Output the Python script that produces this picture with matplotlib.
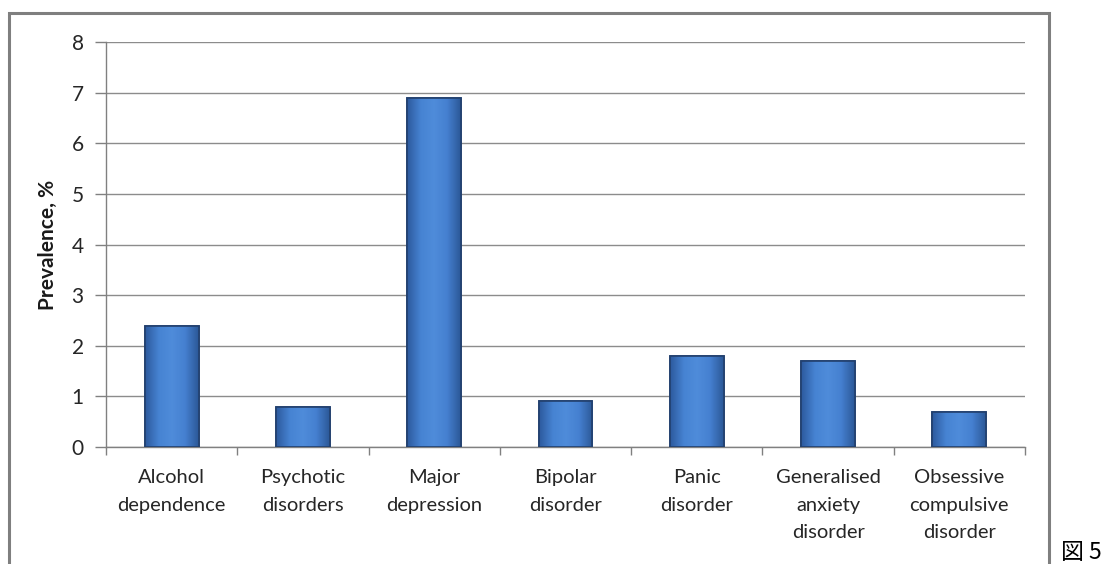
"""Prevalence of mental disorders - bar chart with Excel-like styling."""

import numpy as np
import matplotlib

matplotlib.use("Agg")
import matplotlib.pyplot as plt
from matplotlib.colors import LinearSegmentedColormap
from matplotlib.patches import Rectangle

categories = [
    "Alcohol\ndependence",
    "Psychotic\ndisorders",
    "Major\ndepression",
    "Bipolar\ndisorder",
    "Panic\ndisorder",
    "Generalised\nanxiety\ndisorder",
    "Obsessive\ncompulsive\ndisorder",
]
prevalence = [2.4, 0.8, 6.9, 0.9, 1.8, 1.7, 0.7]
y_ticks = [0, 1, 2, 3, 4, 5, 6, 7, 8]

plt.rcParams["font.family"] = ["Lato", "DejaVu Sans"]

fig = plt.figure(figsize=(11.03, 5.64), dpi=100)
ax = fig.add_axes([0.0961, 0.2074, 0.8332, 0.7181])

# outer chart border (bottom runs off the image)
fig.patches.append(
    Rectangle((9 / 1103, -0.05), 1040 / 1103, 1.05 - 13 / 564,
              transform=fig.transFigure, fill=False,
              edgecolor="#7f7f7f", linewidth=2.2)
)

xs = np.arange(len(categories))
bars = ax.bar(xs, prevalence, width=0.41, color="#3d74c4",
              edgecolor="#22406e", linewidth=1.2, zorder=3)

# horizontal shading inside each bar
shade = LinearSegmentedColormap.from_list(
    "shade", ["#2d5a9e", "#4683d2", "#4f8cda", "#4580d0", "#2c5898"])
grad = np.linspace(0, 1, 64).reshape(1, -1)
for bar in bars:
    x0, w, h = bar.get_x(), bar.get_width(), bar.get_height()
    im = ax.imshow(grad, cmap=shade, aspect="auto",
                   extent=(x0, x0 + w, 0, h), zorder=3.5)
    im.set_clip_path(bar)
    ax.add_patch(Rectangle((x0, 0), w, h, fill=False,
                           edgecolor="#22406e", linewidth=1.2, zorder=4))

ax.set_xlim(-0.5, len(categories) - 0.5)
ax.set_ylim(0, 8)
ax.set_yticks(y_ticks)
ax.set_xticks(xs)
ax.set_xticklabels(categories, fontsize=14.5, color="#262626", linespacing=1.75)
ax.set_xticks(np.arange(-0.5, len(categories), 1.0), minor=True)
ax.tick_params(axis="x", which="major", length=0, pad=16)
ax.tick_params(axis="x", which="minor", length=6, color="#808080", width=1)
ax.tick_params(axis="y", length=8, color="#808080", width=1,
               labelsize=15, labelcolor="#262626", pad=8)

ax.grid(axis="y", color="#8c8c8c", linewidth=1, zorder=0)
for side in ("top", "right"):
    ax.spines[side].set_visible(False)
for side in ("left", "bottom"):
    ax.spines[side].set_color("#808080")
    ax.spines[side].set_linewidth(1)

ax.set_ylabel("Prevalence, %", fontsize=15, fontweight="bold",
              color="#1a1a1a", labelpad=10)

fig.text(1061 / 1103, 0.0, "図 5", fontsize=16.5, va="bottom", ha="left",
         family=["Noto Sans CJK JP", "DejaVu Sans"])

fig.savefig("out.png", dpi=100)
plt.close(fig)
